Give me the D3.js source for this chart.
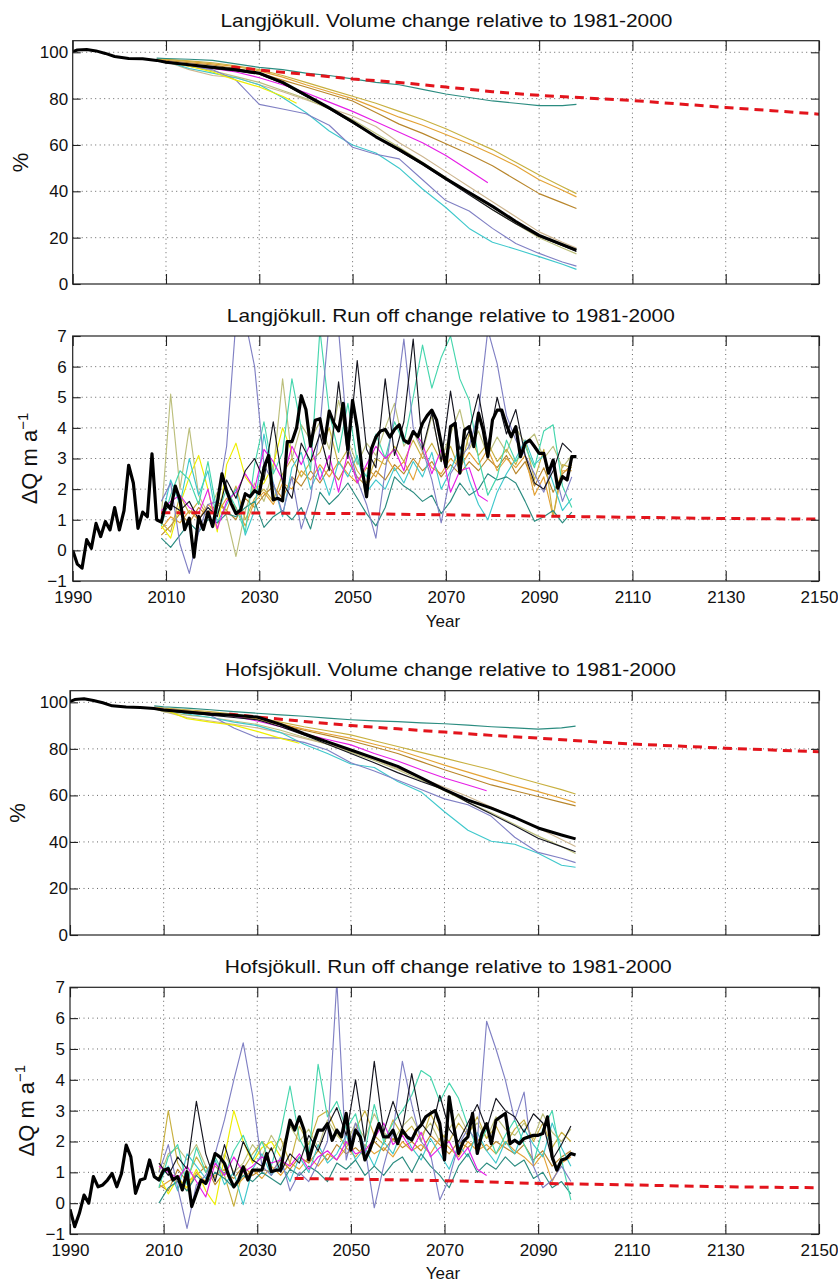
<!DOCTYPE html>
<html><head><meta charset="utf-8">
<script src="https://cdn.jsdelivr.net/npm/d3@7"></script>
<style>
body{margin:0;background:#fff;}
svg text{font-family:"Liberation Sans",Arial,Helvetica,sans-serif;fill:#111;}
.tick text{font-size:17px;}
</style></head><body>
<svg id="chart" width="838" height="1282"></svg>
<script>
// ---------------- DATA ----------------
const titles = [
  "Langjökull. Volume change relative to 1981-2000",
  "Langjökull. Run off change relative to 1981-2000",
  "Hofsjökull. Volume change relative to 1981-2000",
  "Hofsjökull. Run off change relative to 1981-2000"
];
const xTicks = [1990, 2010, 2030, 2050, 2070, 2090, 2110, 2130, 2150];
const volTicks = [0, 20, 40, 60, 80, 100];
const runTicks = [-1, 0, 1, 2, 3, 4, 5, 6, 7];

// Volume (%) — black thick (observed + ensemble mean)
const blackVolYears = [1990,1991,1993,1995,1997,1999,2002,2005,2008,2010,2015,2020,2025,2030,2035,2040,2045,2050,2055,2060,2065,2070,2075,2080,2085,2090,2095,2098];
const langVolBlack = [100.3,101,101.2,100.6,99.5,98.2,97.3,97.2,96.5,95.7,94.6,93.5,92.5,91,87,81.5,76,70,63.5,58,52,45.5,39.5,33.5,27,21,17,14.6];
const hofsVolBlack = [100.3,101.2,101.5,100.8,99.8,98.5,98,97.8,97.3,96.7,95.8,95,94.5,93.7,90.5,86.5,83,79.5,76,72.5,67.5,62.5,58,54.5,50.5,46,43,41.3];

// Volume — scenario runs
const volYears = [2008,2010,2015,2020,2025,2030,2035,2040,2045,2050,2055,2060,2065,2070,2075,2080,2085,2090,2095,2098];
const volYearsMagenta = [2008,2010,2015,2020,2025,2030,2035,2040,2045,2050,2055,2060,2065,2070,2075,2079];
const volYearsYellowLang = [2008,2010,2015,2020,2025,2030,2035,2038];
const volYearsYellowHofs = [2008,2010,2015,2020,2025,2030,2035,2039];

const langVolTeal = [97.5,97.3,97,96.5,95,93.5,92.5,91,90,88.5,87,86,84,82,80.5,79,78,77,77,77.5];
const langVolGoldA = [97,97,96.3,95.5,94.2,92.5,90,87,84,81,78,74.5,71,67,62.5,58,52.5,47,42,39];
const langVolGoldB = [97,97,96,95,93.8,92,89.3,86,83,80,76,72,68.5,64.5,60.5,56,51,45,40.5,37.6];
const langVolGoldC = [96.8,96.5,95.5,94.5,93,91,88,85,82,79,74,69,65,60.5,56,51,45,39,35,32.6];
const langVolMagenta = [96.5,96,94.5,93,91.5,89,86,82.5,78.5,74.5,70,65.5,61,55.5,49,43.7];
const langVolYellow = [96.5,96,94,91.5,88,85,81,78];
const langVolLavender = [97,96.5,94,92.5,88,77.5,75.5,73.5,68.5,59,56,54,45,36,31.5,24,17.5,13.2,9.5,7.7];
const langVolCyan = [97,96,93,91,89,86,80.5,74,66,60,56.5,50,41,33,24,18,15,11.8,8.5,6.3];
const langVolKhaki = [96.8,95.5,94,92,89.5,87,83.5,80,75.5,71,65,59,52.5,46,39,32,26,20,15.5,13];
const langVolThinBlack = [96.5,95.5,94.5,93,92,90.5,86.5,81,75.5,69.5,63.5,57.5,51.5,45,38.5,32,26,20.5,16.5,14];
const langVolTan = [96.8,96,92.5,90,89,86,83,79.5,76,72.5,68,61,55,48.5,42,35.5,29,22.5,18,15.5];

const hofsVolTeal = [98.5,98.1,97.5,96.8,96,95.3,94.6,94,93.2,92.5,92,91.7,91.2,90.8,90.2,89.5,89,88.5,89,89.8];
const hofsVolGoldA = [98,97.5,96.8,96,95,93.5,91.5,89.5,87.8,86,83.5,81,78.5,76,73.5,71,68,65.2,62.5,60.6];
const hofsVolGoldB = [97.8,97,96.3,95.5,94.5,93,90.8,88.5,86.5,84.5,82,79.5,76.3,73,70,67,64.3,61.6,58.8,56.9];
const hofsVolGoldC = [97.8,97,96,95,94,92.5,90.3,88,85.8,83.5,80.8,78,74.5,71,67.8,64.5,62,59.5,57,55.5];
const hofsVolMagenta = [97.5,97,96,95.3,94,92,89.5,86.5,84,81.7,78,74.8,71,67.5,64.5,62];
const hofsVolYellow = [97.5,97,93,91.5,90.2,87.5,84.5,82.4];
const hofsVolLavender = [97.8,97.5,96.5,94.5,89,84.8,84.6,82.8,79.5,74,70.5,66.5,62.5,58.5,56,51,42,35.5,33,31.1];
const hofsVolCyan = [97.5,97,95,93.5,91.5,90,87,82,78,73.5,72,66,61.5,53,45,40.3,39,35.1,30,29.1];
const hofsVolThinBlack = [97.5,96.5,95.5,94.5,93.5,92.5,89.5,86,82,78,74,69.8,66,62.5,57,52,47,41.6,38,35.8];
const hofsVolKhaki = [97.3,96,94.5,93.5,92,90.5,88,85,82,78.5,75,71,66.5,62,57,52.5,47.5,42.5,38,35];
const hofsVolTan = [97.5,96,93.5,92,90.5,89,87,84.5,82,79,75.5,71.5,67.5,63.5,59.5,55,50.5,46,41,38];

// Volume — red dashed reference
const redVolYears = [2024,2030,2040,2050,2060,2070,2080,2090,2100,2110,2120,2130,2140,2150];
const langVolRed = [93.8,92.3,90.5,88.5,87,85,83,81.4,80.3,79.2,77.7,76.2,74.8,73.3];
const hofsVolRed = [95,93.7,91.8,90,88.6,87.2,85.8,84.6,83.3,82.1,81.2,80.3,79.5,78.8];

// Run off (ΔQ m a^-1) — black thick, yearly 1990..2098
const runYearsAll = d3.range(1990, 2099);
const langRunBlack = [0,-0.45,-0.58,0.35,0.07,0.88,0.45,0.94,0.67,1.4,
  0.67,1.3,2.78,2.2,0.72,1.25,1.1,3.15,1.0,0.92,
  1.55,1.35,2.1,1.65,0.68,1.05,-0.22,1.1,0.68,1.25,
  0.78,1.55,2.5,1.95,1.52,1.2,1.32,1.85,1.75,1.95,
  1.85,2.7,3.1,1.65,1.7,1.62,3.55,3.55,4.0,5.05,
  4.6,3.4,4.25,4.3,3.5,4.55,4.15,3.9,4.8,3.3,
  4.9,4.0,2.7,1.75,3.3,3.7,3.9,3.95,3.7,3.95,
  4.1,3.6,3.5,3.88,3.71,4.15,4.4,4.58,4.26,3.5,
  2.73,4.04,4.15,2.52,3.93,4.04,3.39,4.48,3.93,3.06,
  4.26,4.58,4.58,4.1,3.71,4.04,3.06,3.5,3.6,3.39,
  3.17,3.17,2.52,2.95,2.03,2.41,2.3,3.06,3.06];
const hofsRunBlack = [-0.2,-0.76,-0.33,0.26,0,0.86,0.53,0.59,0.75,0.96,
  0.53,0.96,1.88,1.5,0.32,0.75,0.8,1.4,0.86,0.75,
  1.07,1.12,0.75,0.86,0.43,1.02,-0.11,0.32,0.75,0.64,
  1.07,1.61,1.5,1.29,0.86,0.53,0.75,1.18,0.75,1.07,
  1.07,1.07,1.61,1.02,1.07,1.07,1.93,2.69,2.37,2.8,
  2.37,1.4,1.93,2.37,2.37,2.58,2.04,2.37,2.15,2.91,
  1.72,2.37,2.15,1.4,1.72,2.15,2.58,2.15,2.15,2.37,
  1.93,2.37,2.15,2.05,2.37,2.53,2.8,2.91,3.0,2.58,
  1.4,3.45,2.47,1.61,2.0,2.15,2.91,1.61,2.26,2.58,
  1.93,2.69,2.8,2.91,1.93,2.04,1.93,2.1,2.15,2.2,
  2.2,2.26,2.8,1.5,1.07,1.4,1.45,1.61,1.56];

// Run off — scenario runs, every second year 2009..2097
const runYears2 = d3.range(2009, 2098, 2);
const langRunTeal = [0.4,0.1,0.5,0.9,0.6,1.0,0.9,1.2,1.1,1.4,1.6,0.75,1.1,1.3,1.0,1.4,0.7,1.9,1.5,1.8,2.2,1.7,1.2,0.8,1.4,2.4,2.1,1.9,1.6,1.8,1.2,1.6,2.2,1.8,2.0,2.5,2.3,2.4,2.2,1.6,0.95,1.1,1.3,0.9,1.25];
const langRunLavender = [1.6,2.2,0.2,-0.75,0.6,1.5,1.6,3.4,7.5,7.5,6.0,2.8,2.2,1.2,2.4,0.7,1.7,4.0,7.5,7.2,3.5,2.3,1.5,0.4,2.6,4.5,6.9,4.0,3.3,2.3,0.9,2.5,3.0,3.4,4.5,7.2,6.1,4.4,3.6,3.1,2.5,1.9,2.8,1.6,2.4];
const langRunTurq = [0.8,1.8,2.6,2.3,1.5,2.9,1.2,2.0,1.4,0.6,2.8,4.2,2.5,3.2,5.6,4.0,2.6,7.2,4.5,3.2,4.8,2.9,2.4,3.8,3.0,4.2,3.5,5.0,6.7,5.3,6.3,7.0,5.6,4.9,3.0,1.8,2.4,3.6,2.9,3.4,2.7,3.9,4.1,2.1,1.4];
const langRunThinBlack = [1.2,1.5,1.3,1.6,1.0,1.4,1.1,2.3,1.7,2.6,3.0,2.3,4.2,2.2,1.7,3.5,2.9,3.8,2.6,5.5,3.0,6.2,3.3,2.7,5.6,3.1,4.2,6.9,3.3,4.5,2.9,5.2,3.3,3.9,5.1,3.4,5.0,3.8,4.6,3.1,2.2,2.0,2.6,3.5,3.2];
const langRunMagenta = [1.3,1.6,1.8,1.4,1.2,2.0,0.7,1.6,1.9,2.5,2.0,3.3,2.9,2.3,3.4,2.8,3.5,2.3,3.1,1.9,3.2,2.2,2.8,3.4,3.0,3.3,2.6,3.9,3.5,2.5,3.3,1.9,2.6,2.7,1.8,1.6];
const langRunYellow = [0.8,0.4,1.5,2.4,3.1,2.0,0.6,2.8,3.5,2.4,2.0,2.2,2.8,4.0,3.2];
const langRunGoldA = [0.9,0.6,1.8,1.2,1.6,1.1,1.5,1.3,2.1,1.0,1.7,2.0,1.6,2.5,3.0,2.4,2.9,3.2,4.0,2.8,3.3,2.6,2.2,3.0,2.8,3.4,2.9,3.6,3.0,3.5,2.9,3.4,2.6,3.8,3.1,3.5,2.9,3.3,2.8,3.6,2.3,3.3,1.1,2.8,2.7];
const langRunGoldB = [0.7,1.1,0.9,1.3,1.0,1.5,1.2,1.7,1.4,0.8,1.6,1.9,1.5,2.2,2.0,2.6,2.3,2.8,2.4,2.9,2.5,2.2,2.7,2.4,3.1,2.6,2.9,2.3,3.2,2.7,2.5,3.0,2.7,3.2,2.8,3.3,2.6,3.0,2.7,3.1,1.8,2.4,1.1,2.6,2.6];
const langRunGoldC = [0.5,0.8,1.2,0.9,1.4,1.1,1.6,1.3,1.0,1.7,1.4,1.8,2.1,1.7,2.4,2.1,2.6,2.2,2.7,2.3,2.9,2.4,2.1,2.6,2.3,2.8,2.5,3.0,2.6,2.9,2.4,2.8,2.5,2.9,2.6,3.0,2.7,3.1,2.5,2.9,2.1,2.7,1.9,2.5,2.8];
const langRunKhaki = [1.1,5.1,2.0,4.0,1.8,1.2,1.9,1.1,-0.2,1.3,2.2,1.6,2.6,5.6,3.0,4.1,3.6,4.2,3.3,4.9,3.6,2.8,3.5,3.1,4.0,4.8,3.4,3.9,3.2,4.4,3.0,3.8,4.6,3.3,3.9,3.1,3.7,3.2,4.0,3.5,3.8,3.0,3.4,2.7,3.1];
const langRunCyan = [1.0,2.3,1.5,3.0,1.8,2.6,0.9,1.5,2.0,0.5,1.3,3.8,2.2,1.1,2.7,3.2,2.0,2.7,1.8,2.9,2.4,3.1,1.9,2.3,2.0,2.7,2.2,2.9,2.4,3.2,2.0,2.6,3.4,2.3,1.5,1.0,1.9,2.5,3.0,3.6,2.8,3.1,2.2,1.3,1.7];

const hofsRunTeal = [0.0,0.5,0.7,0.4,0.9,0.6,1.0,0.8,0.5,0.9,0.7,1.0,0.8,0.6,1.1,0.9,1.2,1.0,0.7,1.3,1.1,1.4,0.9,1.2,0.9,1.3,1.5,1.0,1.6,1.2,0.9,0.5,1.2,1.6,1.0,1.3,1.1,1.5,1.2,1.4,0.8,1.0,0.5,0.7,0.3];
const hofsRunLavender = [1.0,1.9,0.5,-0.82,0.6,0.9,1.6,2.7,4.0,5.2,3.5,1.2,0.9,1.5,0.4,1.0,0.7,1.3,2.0,7.2,1.4,2.6,1.8,-0.15,1.2,2.3,4.6,3.2,2.0,1.6,0.1,0.8,1.9,2.4,2.0,5.9,5.0,4.0,2.7,3.6,1.2,0.5,0.75,1.2,0.7];
const hofsRunTurq = [0.5,1.5,1.9,0.6,1.8,1.0,1.5,0.9,1.7,2.2,1.4,2.0,1.2,2.3,3.8,2.1,1.5,4.5,2.8,3.3,2.4,2.9,1.7,3.2,2.0,2.6,3.0,3.5,4.3,4.1,3.3,3.9,3.4,2.5,1.8,2.4,1.6,2.2,2.7,1.9,1.3,2.4,3.0,1.4,0.1];
const hofsRunThinBlack = [1.3,0.9,1.5,1.1,3.3,1.6,0.7,1.9,0.9,2.0,1.4,1.2,1.8,1.0,1.6,1.3,2.2,1.7,2.5,3.1,2.2,4.0,2.0,4.6,2.3,3.3,2.4,4.2,2.6,2.2,3.5,2.4,2.0,2.6,3.2,2.4,3.4,3.0,2.8,2.3,2.9,2.6,1.4,1.9,2.5];
const hofsRunMagenta = [1.2,1.0,0.8,1.2,0.7,0.2,1.3,0.9,1.5,1.0,1.2,1.5,1.3,1.4,1.2,1.6,1.1,1.5,1.7,1.4,2.0,1.6,1.7,2.1,2.6,1.9,2.2,1.7,2.3,1.5,1.8,2.0,1.4,1.8,1.1,0.9];
const hofsRunYellow = [0.9,0.3,0.8,0.5,1.1,0.4,-0.05,1.5,3.0,2.0,1.3,1.8,2.0,1.5];
const hofsRunGoldA = [1.0,3.0,1.3,0.8,1.5,1.0,1.2,0.9,-0.1,1.1,1.6,2.0,1.7,2.1,1.3,2.5,1.9,2.8,3.0,2.3,1.8,2.4,3.0,2.2,1.9,2.7,2.2,2.5,2.0,2.9,2.3,2.0,2.6,2.2,2.8,2.1,2.5,1.9,2.4,2.7,2.0,2.6,1.8,2.3,2.0];
const hofsRunGoldB = [0.5,0.7,0.9,0.4,1.0,0.7,0.9,1.1,0.5,0.8,1.1,0.8,1.2,0.9,1.3,1.1,1.5,1.2,1.6,1.4,1.8,1.5,1.9,1.6,1.8,1.5,2.0,1.7,1.9,1.6,2.1,1.8,1.5,2.0,1.7,1.9,1.6,2.0,1.7,1.5,1.2,1.6,0.7,1.3,1.5];
const hofsRunGoldC = [0.6,0.4,1.1,0.7,0.9,1.2,0.6,1.0,0.8,1.2,0.9,1.1,1.0,1.4,1.1,1.5,1.3,1.7,1.4,1.9,1.6,1.8,1.5,2.0,1.7,2.1,1.8,2.0,1.7,2.2,1.9,1.6,2.0,1.8,2.1,1.7,2.0,1.8,1.6,1.9,1.4,1.7,1.2,1.5,1.7];
const hofsRunKhaki = [0.8,1.6,1.8,1.4,1.9,1.2,0.8,1.6,1.0,1.3,1.9,1.5,2.2,1.7,2.5,2.0,2.4,1.8,2.7,2.2,1.9,2.6,2.1,2.9,2.3,2.0,2.5,2.8,2.2,2.6,2.0,2.4,2.9,2.3,2.6,2.1,2.8,2.4,2.2,2.6,2.1,2.9,2.3,2.0,2.4];
const hofsRunCyan = [0.7,1.2,0.4,1.6,1.2,0.8,1.4,0.6,1.0,-0.05,1.1,1.6,0.9,1.3,0.7,1.5,1.0,1.9,1.3,1.6,2.2,1.4,1.8,1.2,2.0,1.6,2.4,1.8,1.4,2.1,1.6,1.1,1.9,1.5,2.3,1.7,1.3,2.0,1.6,2.4,1.9,1.5,2.6,1.8,1.2];

// Run off — red dashed reference
const langRedRunYears = [2009,2030,2050,2070,2090,2110,2130,2150];
const langRunRed = [1.23,1.22,1.2,1.16,1.12,1.08,1.04,1.02];
const hofsRedRunYears = [2038,2050,2070,2090,2110,2130,2150];
const hofsRunRed = [0.8,0.78,0.73,0.64,0.59,0.53,0.5];

// ---------------- STYLE ----------------
const C = {teal:"#2b8c80", goldA:"#c8b040", goldB:"#e3a336", goldC:"#b8862b", magenta:"#e61fe6",
  yellow:"#eeee00", lavender:"#8080c4", cyan:"#3fc8cc", turq:"#45d6ad", khaki:"#bcbf7c",
  tan:"#cdb690", thinBlack:"#15151f", red:"#e3141c", black:"#000"};

const langVolSeries = [
  [volYears, langVolTan, C.tan], [volYears, langVolKhaki, C.khaki], [volYears, langVolCyan, C.cyan],
  [volYears, langVolLavender, C.lavender], [volYearsYellowLang, langVolYellow, C.yellow],
  [volYears, langVolGoldC, C.goldC], [volYears, langVolGoldB, C.goldB], [volYears, langVolGoldA, C.goldA],
  [volYearsMagenta, langVolMagenta, C.magenta], [volYears, langVolTeal, C.teal], [volYears, langVolThinBlack, C.thinBlack]
];
const hofsVolSeries = [
  [volYears, hofsVolTan, C.tan], [volYears, hofsVolKhaki, C.khaki], [volYears, hofsVolCyan, C.cyan],
  [volYears, hofsVolLavender, C.lavender], [volYearsYellowHofs, hofsVolYellow, C.yellow],
  [volYears, hofsVolGoldC, C.goldC], [volYears, hofsVolGoldB, C.goldB], [volYears, hofsVolGoldA, C.goldA],
  [volYearsMagenta, hofsVolMagenta, C.magenta], [volYears, hofsVolTeal, C.teal], [volYears, hofsVolThinBlack, C.thinBlack]
];
const langRunSeries = [
  [runYears2, langRunKhaki, C.khaki], [runYears2, langRunGoldC, C.goldC], [runYears2, langRunGoldB, C.goldB],
  [runYears2, langRunGoldA, C.goldA], [runYears2, langRunYellow, C.yellow], [runYears2, langRunCyan, C.cyan],
  [runYears2, langRunTeal, C.teal], [runYears2, langRunTurq, C.turq], [runYears2, langRunLavender, C.lavender],
  [runYears2, langRunMagenta, C.magenta], [runYears2, langRunThinBlack, C.thinBlack]
];
const hofsRunSeries = [
  [runYears2, hofsRunKhaki, C.khaki], [runYears2, hofsRunGoldC, C.goldC], [runYears2, hofsRunGoldB, C.goldB],
  [runYears2, hofsRunGoldA, C.goldA], [runYears2, hofsRunYellow, C.yellow], [runYears2, hofsRunCyan, C.cyan],
  [runYears2, hofsRunTeal, C.teal], [runYears2, hofsRunTurq, C.turq], [runYears2, hofsRunLavender, C.lavender],
  [runYears2, hofsRunMagenta, C.magenta], [runYears2, hofsRunThinBlack, C.thinBlack]
];

const panels = [
  {title:titles[0], tx:446.4, ty:26.5, tl:452, left:72.7, right:819, top:40.7, bottom:284,
   yDomain:[0,105], yTicks:volTicks, yPad:4.5, xLabels:false, ylab:"pct", ylx:28,
   series:langVolSeries, red:[redVolYears, langVolRed], black:[blackVolYears, langVolBlack], bw:3},
  {title:titles[1], tx:450.8, ty:321.7, tl:448, left:72.7, right:819, top:336, bottom:581,
   yDomain:[-1,7], yTicks:runTicks, yPad:6, xLabels:true, xPad:10.2, yearY:626.5, ylab:"dq", ylx:36.5,
   series:langRunSeries, red:[langRedRunYears, langRunRed], black:[runYearsAll, langRunBlack], bw:3.2},
  {title:titles[2], tx:450.5, ty:676, tl:451, left:70, right:819, top:690.7, bottom:935,
   yDomain:[0,105], yTicks:volTicks, yPad:2, xLabels:false, ylab:"pct", ylx:25,
   series:hofsVolSeries, red:[redVolYears, hofsVolRed], black:[blackVolYears, hofsVolBlack], bw:3},
  {title:titles[3], tx:448.3, ty:972.7, tl:447, left:70, right:819, top:987.3, bottom:1234,
   yDomain:[-1,7], yTicks:runTicks, yPad:5, xLabels:true, xPad:10.2, yearY:1278.5, ylab:"dq", ylx:33.5,
   series:hofsRunSeries, red:[hofsRedRunYears, hofsRunRed], black:[runYearsAll, hofsRunBlack], bw:3.2}
];

const svg = d3.select("#chart");
const defs = svg.append("defs");

panels.forEach((p, i) => {
  const g = svg.append("g");
  const x = d3.scaleLinear().domain([1990, 2150]).range([p.left, p.right]);
  const y = d3.scaleLinear().domain(p.yDomain).range([p.bottom, p.top]);
  const cid = "clip" + i;
  defs.append("clipPath").attr("id", cid).append("rect")
    .attr("x", p.left).attr("y", p.top).attr("width", p.right - p.left).attr("height", p.bottom - p.top);

  // grid
  const grid = g.append("g").attr("stroke", "#555").attr("stroke-width", 0.9).attr("stroke-dasharray", "1,3.5");
  grid.selectAll("line.v").data(xTicks.filter(d => d > 1990 && d < 2150)).join("line")
    .attr("x1", d => x(d)).attr("x2", d => x(d)).attr("y1", p.top).attr("y2", p.bottom);
  grid.selectAll("line.h").data(p.yTicks.filter(d => d > p.yDomain[0] && d < p.yDomain[1])).join("line")
    .attr("y1", d => y(d)).attr("y2", d => y(d)).attr("x1", p.left).attr("x2", p.right);

  const line = d3.line().x(d => x(d[0])).y(d => y(d[1]));
  const lg = g.append("g").attr("clip-path", `url(#${cid})`).attr("fill", "none")
    .attr("stroke-linejoin", "round");

  p.series.forEach(s => {
    lg.append("path").datum(d3.zip(s[0], s[1])).attr("d", line)
      .attr("stroke", s[2]).attr("stroke-width", 1.15);
  });
  lg.append("path").datum(d3.zip(p.red[0], p.red[1])).attr("d", line)
    .attr("stroke", C.red).attr("stroke-width", 3).attr("stroke-dasharray", "9,6");
  lg.append("path").datum(d3.zip(p.black[0], p.black[1])).attr("d", line)
    .attr("stroke", C.black).attr("stroke-width", p.bw);

  // axes (inward ticks, MATLAB box style)
  const styleAxis = a => { a.select(".domain").remove(); a.attr("font-family", null).attr("font-size", null);
    a.selectAll(".tick line").attr("stroke", "#222").attr("stroke-width", 1.1); a.attr("color", "#111"); };
  g.append("g").attr("transform", `translate(${p.left},0)`)
    .call(d3.axisLeft(y).tickValues(p.yTicks).tickSize(-8).tickPadding(p.yPad).tickSizeOuter(0)).call(styleAxis);
  g.append("g").attr("transform", `translate(${p.right},0)`)
    .call(d3.axisRight(y).tickValues(p.yTicks).tickSize(-8).tickFormat("").tickSizeOuter(0)).call(styleAxis);
  g.append("g").attr("transform", `translate(0,${p.top})`)
    .call(d3.axisTop(x).tickValues(xTicks).tickSize(-10).tickFormat("").tickSizeOuter(0)).call(styleAxis);
  g.append("g").attr("transform", `translate(0,${p.bottom})`)
    .call(d3.axisBottom(x).tickValues(xTicks).tickSize(-10).tickPadding(p.xPad || 8)
      .tickFormat(p.xLabels ? d3.format("d") : "").tickSizeOuter(0)).call(styleAxis);

  // frame
  g.append("rect").attr("x", p.left).attr("y", p.top).attr("width", p.right - p.left)
    .attr("height", p.bottom - p.top).attr("fill", "none").attr("stroke", "#222").attr("stroke-width", 1.2);

  // title
  g.append("text").attr("x", p.tx).attr("y", p.ty).attr("text-anchor", "middle")
    .attr("font-size", 18.5).attr("textLength", p.tl).attr("lengthAdjust", "spacingAndGlyphs").text(p.title);

  // y label
  const cy = (p.top + p.bottom) / 2;
  const yl = g.append("text").attr("transform", `translate(${p.ylx},${cy}) rotate(-90)`)
    .attr("text-anchor", "middle").attr("font-size", 22);
  if (p.ylab === "pct") {
    yl.text("%");
  } else {
    yl.append("tspan").text("ΔQ m a");
    yl.append("tspan").attr("font-size", 15).attr("dy", -9).text("−1");
  }

  if (p.yearY) {
    g.append("text").attr("x", 443).attr("y", p.yearY).attr("text-anchor", "middle")
      .attr("font-size", 17).text("Year");
  }
});
</script></body></html>
